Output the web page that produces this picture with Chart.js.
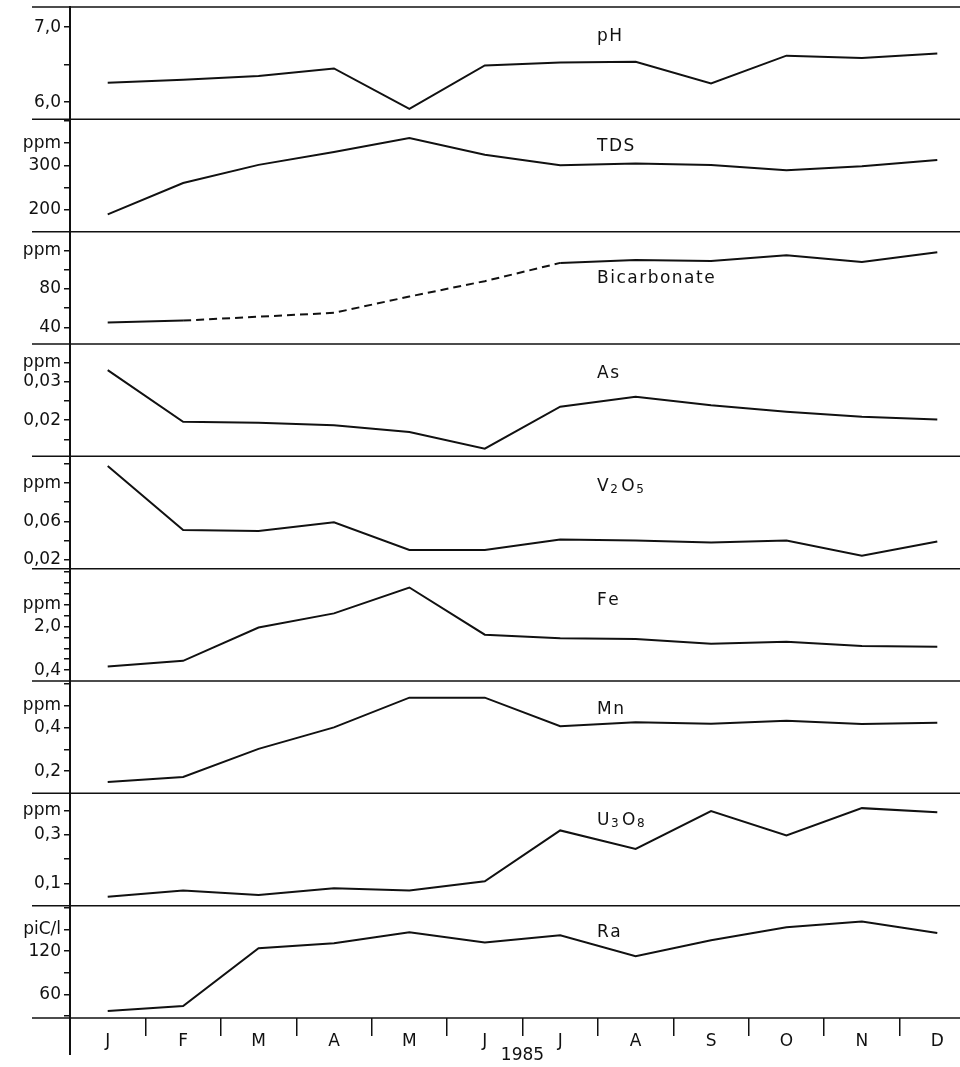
<!DOCTYPE html>
<html>
<head>
<meta charset="utf-8">
<script src="https://cdn.jsdelivr.net/npm/chart.js@4.4.0/dist/chart.umd.min.js"></script>
<style>
  html, body { margin: 0; padding: 0; background: #fff; overflow: hidden; }
  #wrap { width: 975px; height: 1067px; }
</style>
</head>
<body>
<div id="wrap"><canvas id="myChart" width="975" height="1067"></canvas></div>
<script>
// months of 1985
const months = ['J', 'F', 'M', 'A', 'M', 'J', 'J', 'A', 'S', 'O', 'N', 'D'];

// monthly values per panel
const pH          = [6.26, 6.30, 6.35, 6.45, 5.91, 6.49, 6.53, 6.54, 6.25, 6.62, 6.59, 6.65];
const tds         = [189, 260, 301, 330, 362, 324, 300, 304, 301, 289, 298, 312];
const bicarbonate = [45, 47, 51, 55, 72, 88, 107, 110, 109, 115, 108, 118];
const arsenic     = [0.0330, 0.0196, 0.0193, 0.0187, 0.0169, 0.0126, 0.0235, 0.0261, 0.0239, 0.0222, 0.0209, 0.0202];
const v2o5        = [0.118, 0.051, 0.050, 0.059, 0.030, 0.030, 0.041, 0.040, 0.038, 0.040, 0.024, 0.039];
const iron        = [0.53, 0.74, 1.96, 2.48, 3.43, 1.70, 1.57, 1.54, 1.37, 1.44, 1.28, 1.26];
const manganese   = [0.150, 0.173, 0.302, 0.400, 0.536, 0.536, 0.405, 0.423, 0.417, 0.430, 0.415, 0.421];
const u3o8        = [0.045, 0.070, 0.052, 0.080, 0.070, 0.108, 0.318, 0.242, 0.398, 0.297, 0.410, 0.393];
const radium      = [37, 44, 124, 131, 146, 132, 142, 113, 135, 153, 161, 145];

// y tick values and their labels
const phTicks = [6.0, 6.5, 7.0];
const phLabels = ['6,0', '', '7,0'];
const tdsTicks = [200, 250, 300, 350, 400];
const tdsLabels = ['200', '', '300', 'ppm', ''];
const bicTicks = [40, 60, 80, 100, 120];
const bicLabels = ['40', '', '80', '', 'ppm'];
const asTicks = [0.015, 0.020, 0.025, 0.030, 0.035];
const asLabels = ['', '0,02', '', '0,03', 'ppm'];
const vTicks = [0.02, 0.04, 0.06, 0.08, 0.10, 0.12];
const vLabels = ['0,02', '', '0,06', '', 'ppm', ''];
const feTicks = [0.4, 0.8, 1.2, 1.6, 2.0, 2.4, 2.8, 3.2, 3.6, 4.0];
const feLabels = ['0,4', '', '', '', '2,0', '', 'ppm', '', '', ''];
const mnTicks = [0.2, 0.3, 0.4, 0.5, 0.6];
const mnLabels = ['0,2', '', '0,4', 'ppm', ''];
const uTicks = [0.1, 0.2, 0.3, 0.4];
const uLabels = ['0,1', '', '0,3', 'ppm'];
const raTicks = [30, 60, 90, 120, 150, 180];
const raLabels = ['', '60', '', '120', 'piC/l', ''];

// panels top to bottom (digits in names are set as subscripts)
const panels = [
  {id: 'yPh',  name: 'pH',          data: pH,          min: 5.77,   max: 7.27,  ticks: phTicks,  labels: phLabels,  dy: 30},
  {id: 'yTds', name: 'TDS',         data: tds,         min: 150,    max: 404,   ticks: tdsTicks, labels: tdsLabels, dy: 27},
  {id: 'yBic', name: 'Bicarbonate', data: bicarbonate, min: 22.6,   max: 139.5, ticks: bicTicks, labels: bicLabels, dy: 47},
  {id: 'yAs',  name: 'As',          data: arsenic,     min: 0.0106, max: 0.0398,ticks: asTicks,  labels: asLabels,  dy: 30},
  {id: 'yV',   name: 'V2O5',        data: v2o5,        min: 0.0105, max: 0.128, ticks: vTicks,   labels: vLabels,   dy: 30},
  {id: 'yFe',  name: 'Fe',          data: iron,        min: 0.0,    max: 4.12,  ticks: feTicks,  labels: feLabels,  dy: 32},
  {id: 'yMn',  name: 'Mn',          data: manganese,   min: 0.0986, max: 0.612, ticks: mnTicks,  labels: mnLabels,  dy: 29},
  {id: 'yU',   name: 'U3O8',        data: u3o8,        min: 0.0078, max: 0.471, ticks: uTicks,   labels: uLabels,   dy: 27},
  {id: 'yRa',  name: 'Ra',          data: radium,      min: 27.4,   max: 182.9, ticks: raTicks,  labels: raLabels,  dy: 27}
];

const ink = '#111';
const font = 'DejaVu Sans';

const scales = {
  x: {
    type: 'category',
    labels: months,
    offset: true,
    grid: { offset: true, drawOnChartArea: false, tickLength: 18, color: ink, lineWidth: 1.5 },
    border: { display: false },
    ticks: { color: ink, font: { family: font, size: 17 }, padding: -5, autoSkip: false, maxRotation: 0 },
    title: { display: true, text: '1985', color: ink, font: { family: font, size: 17 }, padding: { top: 0, bottom: 1 } },
    afterFit: s => { s.height = 49; s.paddingLeft = 0; s.paddingRight = 0; }
  }
};
// later-defined left axes are laid out on top, so add bottom panel first
panels.slice().reverse().forEach(p => {
  scales[p.id] = {
    type: 'linear',
    position: 'left',
    stack: 'panels',
    stackWeight: 1,
    min: p.min,
    max: p.max,
    afterBuildTicks: s => { s.ticks = p.ticks.map(v => ({ value: v })); },
    afterFit: s => { s.width = 70; s.paddingTop = 0; s.paddingBottom = 0; },
    grid: { drawOnChartArea: false, tickLength: 6, color: ink, lineWidth: 1.5 },
    border: { display: true, color: ink, width: 2 },
    ticks: {
      autoSkip: false,
      color: ink,
      padding: 3,
      font: { family: font, size: 17 },
      callback: (v, i) => p.labels[i]
    }
  };
});

const datasets = panels.map(p => ({
  label: p.name,
  data: p.data,
  yAxisID: p.id,
  borderColor: ink,
  borderWidth: 2,
  pointRadius: 0,
  tension: 0,
  fill: false,
  segment: p.id === 'yBic'
    ? { borderDash: c => (c.p0DataIndex >= 1 && c.p0DataIndex <= 5) ? [8, 5] : undefined }
    : undefined
}));

// separators, axis extension and panel names
const frame = {
  id: 'frame',
  afterDraw(chart) {
    const ctx = chart.ctx;
    ctx.save();
    ctx.strokeStyle = ink;
    ctx.lineWidth = 1.5;
    const ys = panels.map(p => chart.scales[p.id].top);
    ys.push(chart.scales.x.top);
    ys.forEach(y => {
      ctx.beginPath();
      ctx.moveTo(32, y);
      ctx.lineTo(chart.width, y);
      ctx.stroke();
    });
    ctx.lineWidth = 2;
    ctx.beginPath();
    ctx.moveTo(chart.chartArea.left, chart.chartArea.bottom);
    ctx.lineTo(chart.chartArea.left, 1055);
    ctx.stroke();

    ctx.fillStyle = ink;
    ctx.letterSpacing = '1.5px';
    ctx.textBaseline = 'middle';
    ctx.textAlign = 'left';
    panels.forEach(p => {
      let x = 597;
      const y = chart.scales[p.id].top + p.dy;
      for (const ch of p.name) {
        const sub = /[0-9]/.test(ch);
        ctx.font = (sub ? '12px "' : '17px "') + font + '"';
        ctx.fillText(ch, x, sub ? y + 4 : y);
        x += ctx.measureText(ch).width + (sub ? 2 : 0);
      }
    });
    ctx.restore();
  }
};

const config = {
  type: 'line',
  data: { labels: months, datasets: datasets },
  options: {
    responsive: false,
    animation: false,
    layout: { padding: { top: 7, left: 0, right: 0, bottom: 0 } },
    plugins: { legend: { display: false }, tooltip: { enabled: false } },
    scales: scales
  },
  plugins: [frame]
};

const myChart = new Chart(document.getElementById('myChart'), config);
</script>
</body>
</html>
